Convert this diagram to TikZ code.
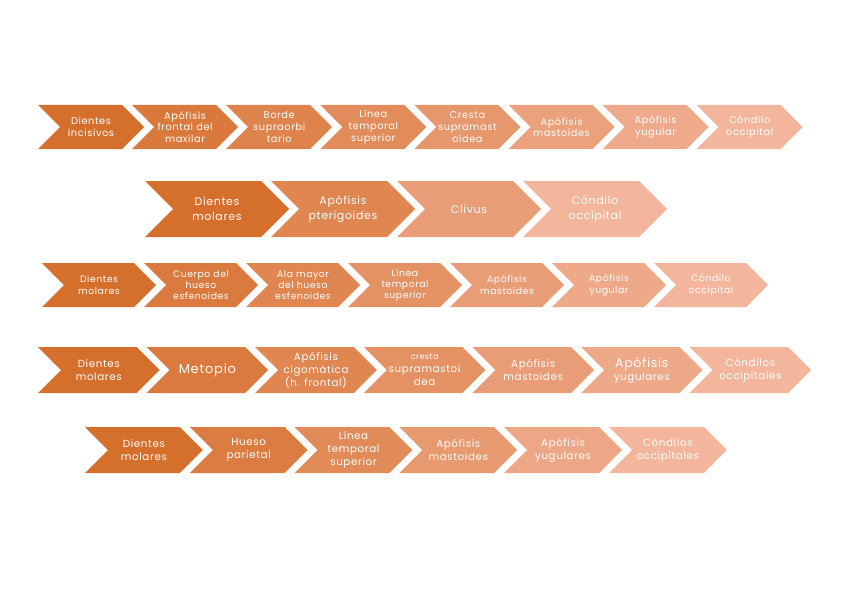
\documentclass[tikz,border=0pt]{standalone}
\usepackage{fontspec}
\setmainfont{Poppins}[LetterSpace=6]
\usetikzlibrary{shapes.symbols}
\definecolor{cA}{RGB}{213,111,44}
\definecolor{cB}{RGB}{243,181,156}
\tikzset{
  chev/.style={signal, signal to=east, signal from=west, signal pointer angle=90,
    fill=#1, draw=none, text=white, align=center, inner sep=0pt, outer sep=0pt},
  fA/.style={font=\fontsize{9.8}{11.6}\selectfont},
  fB/.style={font=\fontsize{11}{15}\selectfont},
  fC/.style={font=\fontsize{9.3}{11.4}\selectfont},
  fD/.style={font=\fontsize{10.3}{13}\selectfont},
}
\begin{document}
\begin{tikzpicture}[x=1pt,y=-1pt]
\useasboundingbox[fill=white] (0,0) rectangle (848,599);
% Row 1
\foreach \t [count=\i from 0] in {{Dientes\\incisivos},{Apófisis\\frontal del\\maxilar},{Borde\\supraorbi\\tario},{Línea\\temporal\\superior},{Cresta\\supramast\\oidea},{Apófisis\\mastoides},{Apófisis\\yugular},{Cóndilo\\occipital}}{
  \pgfmathtruncatemacro\p{100*\i/7}
  \pgfmathsetmacro\xc{38+\i*94.1+53}
  \node[chev={cB!\p!cA}, fA, minimum width=106, minimum height=44] (r1-\i) at (\xc,127) {\t};
}
% Row 2
\foreach \t [count=\i from 0] in {{Dientes\\molares},{Apófisis\\pterigoides},{Clivus},{Cóndilo\\occipital}}{
  \pgfmathtruncatemacro\p{100*\i/3}
  \pgfmathsetmacro\xc{145+\i*126+72}
  \node[chev={cB!\p!cA}, fB, minimum width=144, minimum height=56] (r2-\i) at (\xc,209) {\t};
}
% Row 3
\foreach \t [count=\i from 0] in {{Dientes\\molares},{Cuerpo del\\hueso\\esfenoides},{Ala mayor\\del hueso\\esfenoides},{Línea\\temporal\\superior},{Apófisis\\mastoides},{Apófisis\\yugular},{Cóndilo\\occipital}}{
  \pgfmathtruncatemacro\p{100*\i/6}
  \pgfmathsetmacro\xc{42+\i*102+57}
  \node[chev={cB!\p!cA}, fC, minimum width=114, minimum height=44] (r3-\i) at (\xc,285) {\t};
}
% Row 4
\foreach \t [count=\i from 0] in {{Dientes\\molares},{{\fontsize{13}{15}\selectfont Metopio}},{Apófisis\\cigomática\\(h. frontal)},{{\fontsize{8}{10}\selectfont cresta}\\supramastoi\\dea},{Apófisis\\mastoides},{{\fontsize{12.5}{14}\selectfont Apófisis}\\yugulares},{Cóndilos\\occipitales}}{
  \pgfmathtruncatemacro\p{100*\i/6}
  \pgfmathsetmacro\xc{38+\i*108.6+60.8}
  \node[chev={cB!\p!cA}, fD, minimum width=121.6, minimum height=46] (r4-\i) at (\xc,370) {\t};
}
% Row 5
\foreach \t [count=\i from 0] in {{Dientes\\molares},{Hueso\\parietal},{Línea\\temporal\\superior},{Apófisis\\mastoides},{Apófisis\\yugulares},{Cóndilos\\occipitales}}{
  \pgfmathtruncatemacro\p{100*\i/5}
  \pgfmathsetmacro\xc{85+\i*104.8+58.9}
  \node[chev={cB!\p!cA}, fD, minimum width=117.8, minimum height=46] (r5-\i) at (\xc,450) {\t};
}
\end{tikzpicture}
\end{document}
